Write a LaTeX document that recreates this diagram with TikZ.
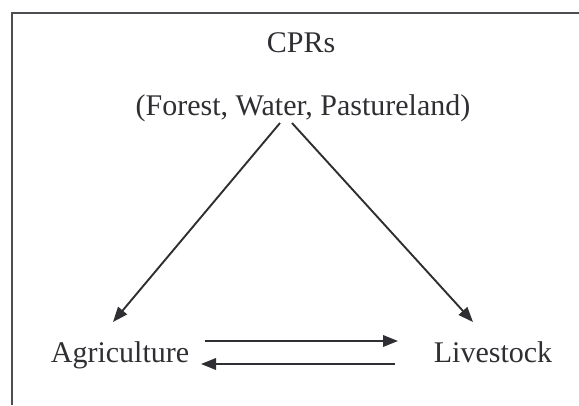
\documentclass[tikz,border=0pt]{standalone}
\usepackage{fontspec}
\setmainfont{Liberation Serif}
\usetikzlibrary{arrows.meta,calc}
\definecolor{ink}{HTML}{2E2E33}
\begin{document}
\begin{tikzpicture}[x=1pt,y=-1pt,
  label text/.style={font=\fontsize{30}{36}\selectfont, text=ink, inner sep=0pt, anchor=base},
  link/.style={draw=ink, line width=1.9pt, -{Triangle[length=15pt,width=11.5pt]}},
  frame/.style={draw=ink!85, line width=2pt}]
  \useasboundingbox (0,0) rectangle (579,405);

  % open frame: top and left edges only
  \draw[frame] (12,405) -- (12,13) -- (579,13);

  \node[label text] (cprs) at (301,52) {CPRs};
  \node[label text] (forest) at (303,115) {(Forest, Water, Pastureland)};
  \node[label text] (agri) at (120,362) {Agriculture};
  \node[label text] (live) at (493,362) {Livestock};

  % resource flows down to each use
  \draw[link] ($(forest.base)+(-23,8)$) -- ($(agri.base)+(-7,-40)$);
  \draw[link] ($(forest.base)+(-11,8)$) -- ($(live.base)+(-20,-40)$);

  % exchange between agriculture and livestock
  \draw[link] ($(agri.base)+(85,-21)$) -- ($(live.base)+(-95,-21)$);
  \draw[link] ($(live.base)+(-98,2)$) -- ($(agri.base)+(81,2)$);
\end{tikzpicture}
\end{document}
